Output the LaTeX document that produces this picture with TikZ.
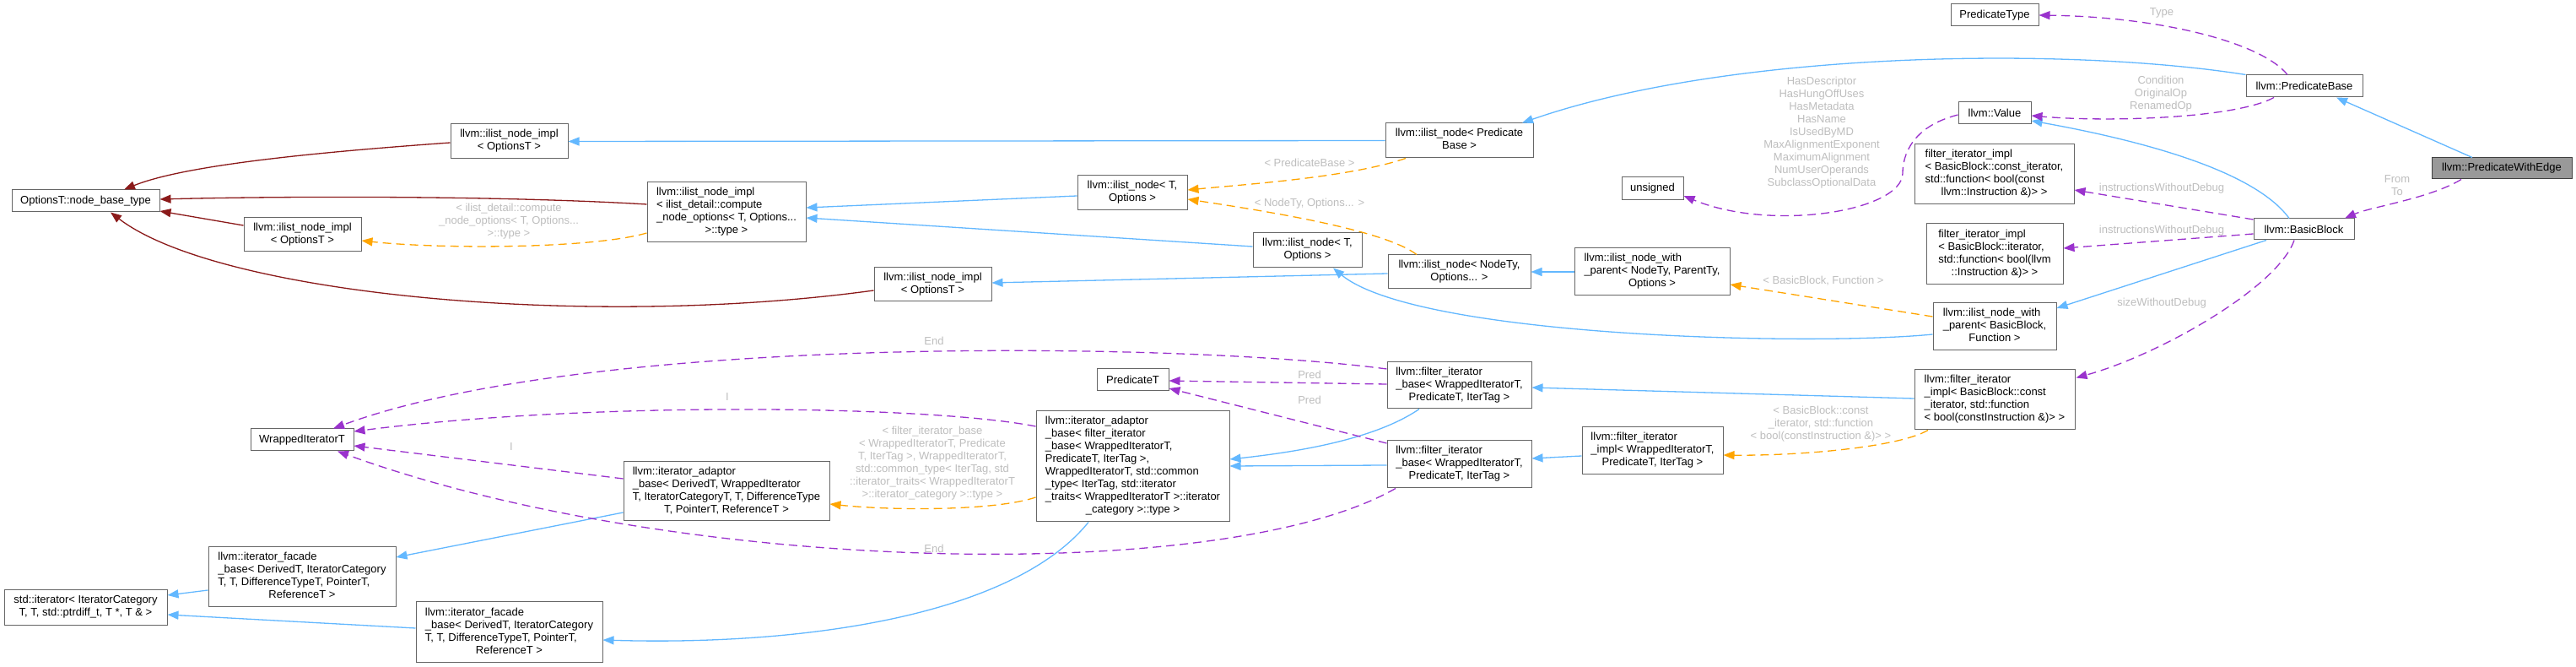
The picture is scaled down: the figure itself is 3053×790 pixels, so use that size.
\documentclass[tikz,border=0pt]{standalone}
\usepackage{fontspec}
\setmainfont{Liberation Sans}
\usetikzlibrary{arrows.meta,calc}
\definecolor{bordc}{HTML}{666666}
\definecolor{hlfill}{HTML}{999999}
\definecolor{hlbord}{HTML}{404040}
\definecolor{inhc}{HTML}{63B8FF}
\definecolor{privc}{HTML}{8B1A1A}
\definecolor{tmplc}{HTML}{FFA500}
\definecolor{usec}{HTML}{9A32CD}
\definecolor{labc}{HTML}{BEBEBE}
\newcommand\fs{\fontsize{6.5}{7.5}\selectfont}
\newcommand\ml[2]{\begin{tabular}{@{}l@{}}#1\\\multicolumn{1}{@{}c@{}}{#2}\end{tabular}}
\tikzset{
  box/.style={draw=bordc, fill=white, line width=0.5pt, inner sep=0pt, font=\fs, text=black},
  sz/.style 2 args={minimum width=#1*0.5pt, minimum height=#2*0.5pt},
  edgebase/.style={line width=0.65pt, -{Triangle[length=6.5pt,width=5pt]}},
  inh/.style={edgebase, draw=inhc},
  priv/.style={edgebase, draw=privc},
  tmpl/.style={edgebase, draw=tmplc, dash pattern=on 5pt off 3pt},
  use/.style={edgebase, draw=usec, dash pattern=on 5pt off 3pt},
  lab/.style={font=\fs, text=labc, inner sep=0pt, align=center},
}
\begin{document}
\begin{tikzpicture}[x=0.5pt,y=-0.5pt]
\fill[white] (0,0) rectangle (3053,790);
\useasboundingbox (0,0) rectangle (3053,790);

% ---------- nodes ----------
\node[box,sz={166}{25},fill=hlfill,draw=hlbord] (pwe) at (2965,199.5) {llvm::PredicateWithEdge};
\node[box,sz={138}{26}] (pb) at (2731,102) {llvm::PredicateBase};
\node[box,sz={104}{26}] (ptype) at (2364,18) {PredicateType};
\node[box,sz={86}{26}] (value) at (2364,134) {llvm::Value};
\node[box,sz={73}{27}] (uns) at (1958.5,223.5) {unsigned};
\node[box,sz={189}{71}] (fic) at (2363.5,206.5) {\ml{filter\_iterator\_impl\\< BasicBlock::const\_iterator,\\std::function< bool(const}{llvm::Instruction \&)> >}};
\node[box,sz={162}{72}] (fi) at (2364,301) {\ml{filter\_iterator\_impl\\< BasicBlock::iterator,\\std::function< bool(llvm}{::Instruction \&)> >}};
\node[box,sz={119}{25}] (bb) at (2730.5,271.5) {llvm::BasicBlock};
\node[box,sz={146}{56}] (inwpbb) at (2364,387) {\ml{llvm::ilist\_node\_with\\\_parent< BasicBlock,}{Function >}};
\node[box,sz={190}{71}] (fimplbb) at (2364,473.5) {\ml{llvm::filter\_iterator\\\_impl< BasicBlock::const\\\_iterator, std::function}{< bool(constInstruction \&)> >}};
\node[box,sz={184}{56}] (inwp) at (1958,322) {\ml{llvm::ilist\_node\_with\\\_parent< NodeTy, ParentTy,}{Options >}};
\node[box,sz={167}{56}] (fimpl) at (1958.5,534) {\ml{llvm::filter\_iterator\\\_impl< WrappedIteratorT,}{PredicateT, IterTag >}};
\node[box,sz={175}{41}] (inpb) at (1729.5,166.5) {\ml{llvm::ilist\_node< Predicate}{Base >}};
\node[box,sz={169}{40}] (innt) at (1729.5,322) {\ml{llvm::ilist\_node< NodeTy,}{Options... >}};
\node[box,sz={171}{55}] (fibA) at (1729.5,456.5) {\ml{llvm::filter\_iterator\\\_base< WrappedIteratorT,}{PredicateT, IterTag >}};
\node[box,sz={171}{56}] (fibB) at (1729.5,550) {\ml{llvm::filter\_iterator\\\_base< WrappedIteratorT,}{PredicateT, IterTag >}};
\node[box,sz={130}{41}] (intA) at (1342,228.5) {\ml{llvm::ilist\_node< T,}{Options >}};
\node[box,sz={129}{41}] (intB) at (1549.5,296.5) {\ml{llvm::ilist\_node< T,}{Options >}};
\node[box,sz={85}{26}] (predT) at (1342.5,450) {PredicateT};
\node[box,sz={229}{131}] (iabf) at (1342.5,552.5) {\ml{llvm::iterator\_adaptor\\\_base< filter\_iterator\\\_base< WrappedIteratorT,\\PredicateT, IterTag >,\\WrappedIteratorT, std::common\\\_type< IterTag, std::iterator\\\_traits< WrappedIteratorT >::iterator}{\_category >::type >}};
\node[box,sz={139}{40}] (iniB) at (1105.5,337) {\ml{llvm::ilist\_node\_impl}{< OptionsT >}};
\node[box,sz={139}{41}] (iniT) at (603.5,167.5) {\ml{llvm::ilist\_node\_impl}{< OptionsT >}};
\node[box,sz={188}{71}] (iniC) at (861,251.5) {\ml{llvm::ilist\_node\_impl\\< ilist\_detail::compute\\\_node\_options< T, Options...}{>::type >}};
\node[box,sz={139}{40}] (iniM) at (358.5,278) {\ml{llvm::ilist\_node\_impl}{< OptionsT >}};
\node[box,sz={175}{26}] (obt) at (101.5,238) {OptionsT::node\_base\_type};
\node[box,sz={122}{26}] (wit) at (358,521) {WrappedIteratorT};
\node[box,sz={244}{70}] (iabd) at (861,582) {\ml{llvm::iterator\_adaptor\\\_base< DerivedT, WrappedIterator\\T, IteratorCategoryT, T, DifferenceType}{T, PointerT, ReferenceT >}};
\node[box,sz={222}{71}] (ifbA) at (358,683.5) {\ml{llvm::iterator\_facade\\\_base< DerivedT, IteratorCategory\\T, T, DifferenceTypeT, PointerT,}{ReferenceT >}};
\node[box,sz={221}{71}] (ifbB) at (603.5,748.5) {\ml{llvm::iterator\_facade\\\_base< DerivedT, IteratorCategory\\T, T, DifferenceTypeT, PointerT,}{ReferenceT >}};
\node[box,sz={193}{41}] (stdit) at (101.5,719.5) {\ml{std::iterator< IteratorCategory}{T, T, std::ptrdiff\_t, T *, T \& >}};

% ---------- public inheritance (blue) ----------
\draw[inh] ($(pwe.north)+(-35,0)$) -- ($(pb.south)+(38,0)$);
\draw[inh] (pb.north west) .. controls (2450,55) and (2050,60) .. ($(inpb.north)+(74.5,0)$);
\draw[inh] (inpb.west) -- (iniT.east);
\draw[inh] ($(intA.west)+(0,3.5)$) -- ($(iniC.east)+(0,-5.5)$);
\draw[inh] ($(intB.west)+(0,-4.5)$) -- ($(iniC.east)+(0,6.5)$);
\draw[inh] ($(innt.west)+(0,2)$) -- ($(iniB.east)+(0,-2)$);
\draw[inh] (inwp.west) -- (innt.east);
\draw[inh] ($(inwpbb.west)+(0,9)$) .. controls (2150,410) and (1680,400) .. ($(intB.south)+(30.5,0)$);
\draw[inh] ($(bb.north)+(-17.5,0)$) .. controls (2670,200) and (2530,165) .. ($(value.east)+(0,9)$);
\draw[inh] ($(bb.south)+(-44.5,0)$) -- ($(inwpbb.east)+(0,-22)$);
\draw[inh] ($(fimplbb.west)+(0,-1.5)$) -- ($(fibA.east)+(0,2.5)$);
\draw[inh] ($(fimpl.west)+(0,6)$) -- ($(fibB.east)+(0,-7)$);
\draw[inh] ($(fibA.south)+(-47.5,0)$) .. controls (1630,520) and (1540,535) .. ($(iabf.east)+(0,-8.5)$);
\draw[inh] ($(fibB.west)+(0,1)$) -- ($(iabf.east)+(0,-0.5)$);
\draw[inh] ($(iabf.south)+(-52.5,0)$) .. controls (1200,730) and (950,765) .. ($(ifbB.east)+(0,9.5)$);
\draw[inh] ($(iabd.west)+(0,25)$) -- ($(ifbA.east)+(0,-23.5)$);
\draw[inh] ($(ifbA.west)+(0,15.5)$) -- ($(stdit.east)+(0,-14.5)$);
\draw[inh] ($(ifbB.west)+(0,-4.5)$) -- ($(stdit.east)+(0,8.5)$);

% ---------- private inheritance (dark red) ----------
\draw[priv] ($(iniT.west)+(0,1.5)$) .. controls (380,180) and (220,195) .. ($(obt.north)+(45.5,0)$);
\draw[priv] ($(iniC.west)+(0,-9.5)$) .. controls (600,232) and (350,232) .. ($(obt.east)+(0,-2)$);
\draw[priv] ($(iniM.west)+(0,-11)$) -- ($(obt.east)+(0,12)$);
\draw[priv] ($(iniB.west)+(0,7)$) .. controls (700,390) and (260,350) .. ($(obt.south)+(29.5,0)$);

% ---------- template instances (orange) ----------
\draw[tmpl] ($(iniC.west)+(0,24.5)$) .. controls (700,295) and (520,295) .. ($(iniM.east)+(0,7)$);
\draw[tmpl] ($(inpb.south)+(-63.5,0)$) .. controls (1600,210) and (1480,218) .. ($(intA.east)+(0,-3.5)$);
\draw[tmpl] ($(innt.north)+(-50.5,0)$) .. controls (1640,272) and (1500,250) .. ($(intA.east)+(0,7.5)$);
\draw[tmpl] ($(inwpbb.west)+(0,-12)$) -- ($(inwp.east)+(0,15)$);
\draw[tmpl] ($(fimplbb.south)+(-79,0)$) .. controls (2250,530) and (2130,540) .. ($(fimpl.east)+(0,5)$);
\draw[tmpl] ($(iabf.west)+(0,36.5)$) .. controls (1180,605) and (1060,605) .. ($(iabd.east)+(0,15)$);

% ---------- usage (purple) ----------
\draw[use] ($(pb.north)+(-20,0)$) .. controls (2680,50) and (2560,20) .. (ptype.east);
\draw[use] ($(pb.south)+(-36,0)$) .. controls (2650,140) and (2500,145) .. ($(value.east)+(0,3)$);
\draw[use] ($(value.west)+(0,2)$) .. controls (2265,150) and (2255,185) .. (2255,205) .. controls (2255,250) and (2100,275) .. ($(uns.east)+(0,8.5)$);
\draw[use] ($(bb.west)+(0,-11.5)$) -- ($(fic.east)+(0,18.5)$);
\draw[use] ($(bb.west)+(0,5.5)$) -- ($(fi.east)+(0,-7)$);
\draw[use] ($(bb.south)+(-11.5,0)$) .. controls (2700,340) and (2560,420) .. ($(fimplbb.east)+(1,-26)$);
\draw[use] ($(pwe.south)+(-48,0)$) .. controls (2880,235) and (2810,245) .. ($(bb.north)+(48.5,0)$);
\draw[use] ($(fibA.west)+(0,-19.5)$) .. controls (1400,405) and (700,395) .. ($(wit.north)+(37,0)$);
\draw[use] ($(iabf.west)+(0,-47.5)$) .. controls (1100,480) and (700,475) .. ($(wit.east)+(0,-10)$);
\draw[use] ($(iabd.west)+(0,-15)$) -- ($(wit.east)+(0,7)$);
\draw[use] ($(fibB.south)+(-75.5,0)$) .. controls (1450,695) and (800,680) .. ($(wit.south)+(42,0)$);
\draw[use] ($(fibA.west)+(0,-1.5)$) -- ($(predT.east)+(0,1)$);
\draw[use] ($(fibB.west)+(0,-25)$) -- ($(predT.east)+(0,10)$);

% ---------- edge labels ----------
\node[lab] (lType) at (2562,15) {Type};
\node[lab] (lCond) at (2561,111) {Condition\\OriginalOp\\RenamedOp};
\node[lab] (lHas) at (2159,157) {HasDescriptor\\HasHungOffUses\\HasMetadata\\HasName\\IsUsedByMD\\MaxAlignmentExponent\\MaximumAlignment\\NumUserOperands\\SubclassOptionalData};
\node[lab] (lIwdA) at (2562,223) {instructionsWithoutDebug};
\node[lab] (lIwdB) at (2562,273) {instructionsWithoutDebug};
\node[lab] (lSize) at (2562,359) {sizeWithoutDebug};
\node[lab] (lFrom) at (2841,219.5) {From\\To};
\node[lab] (lBBF) at (2161,333) {< BasicBlock, Function >};
\node[lab] (lBBc) at (2158,502) {< BasicBlock::const\\\_iterator, std::function\\< bool(constInstruction \&)> >};
\node[lab] (lPB) at (1552,193) {< PredicateBase >};
\node[lab] (lNT) at (1552,241) {< NodeTy, Options... >};
\node[lab] (lPredA) at (1552,444) {Pred};
\node[lab] (lPredB) at (1552,474) {Pred};
\node[lab] (lEndA) at (1107,404) {End};
\node[lab] (lEndB) at (1107,650) {End};
\node[lab] (lIA) at (862,470) {I};
\node[lab] (lIB) at (606,529) {I};
\node[lab] (lComp) at (603,262) {< ilist\_detail::compute\\\_node\_options< T, Options...\\>::type >};
\node[lab] (lFib) at (1105,548.5) {< filter\_iterator\_base\\< WrappedIteratorT, Predicate\\T, IterTag >, WrappedIteratorT,\\std::common\_type< IterTag, std\\::iterator\_traits< WrappedIteratorT\\>::iterator\_category >::type >};
\end{tikzpicture}
\end{document}
